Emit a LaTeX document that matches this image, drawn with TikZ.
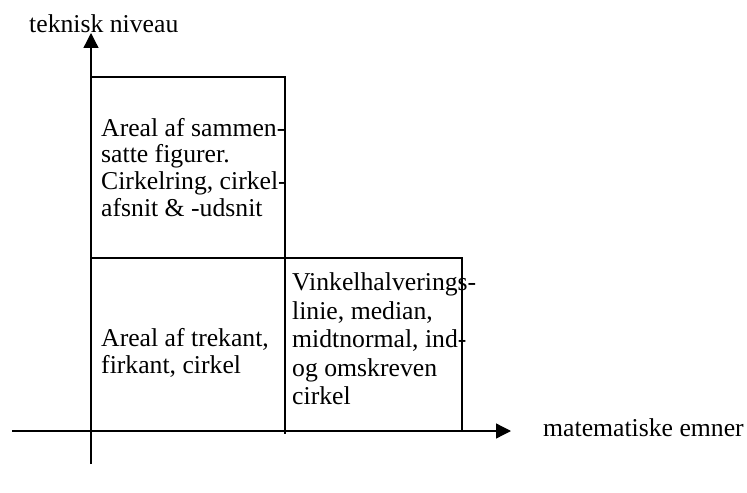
\documentclass[tikz,border=0pt]{standalone}
\usepackage{fontspec}
\setmainfont{Liberation Serif}
\usetikzlibrary{arrows.meta}
\begin{document}
\begin{tikzpicture}[x=1bp,y=-1bp,
  ln/.style={line width=1.2bp},
  axis/.style={line width=1.3bp,-{Triangle[length=15bp,width=15bp]}},
  txt/.style={inner sep=0pt,align=left,font=\fontsize{25.8}{26.7}\selectfont},
  lbl/.style={inner sep=0pt,font=\fontsize{25.8}{26.7}\selectfont}]
\useasboundingbox (0,0) rectangle (747,493);
% boxes
\coordinate (a1) at (91,77);
\coordinate (a2) at (285,258);
\coordinate (b2) at (285,431);
\coordinate (c1) at (285,258);
\coordinate (c2) at (462,431);
\draw[ln] (a1) rectangle (a2);
\draw[ln] (91,258) rectangle (b2);
\draw[ln] (c1) rectangle (c2);
\draw[ln] (a2) -- (285,434);
% axes
\coordinate (xs) at (12,431);
\coordinate (xe) at (511,431);
\coordinate (ys) at (91,464);
\coordinate (ye) at (91,33);
\draw[axis] (xs) -- (xe);
\draw[axis] (ys) -- (ye);
% labels
\node[lbl,anchor=base west] (ty) at (29,33) {teknisk niveau};
\node[lbl,anchor=base west] (tx) at (543,436) {matematiske emner};
\node[txt,anchor=base west] (t1) at (101,216.1) {Areal af sammen-\\satte figurer.\\Cirkelring, cirkel-\\afsnit \& -udsnit};
\node[txt,anchor=base west] (t2) at (101,373.5) {Areal af trekant,\\firkant, cirkel};
\node[txt,anchor=base west,font=\fontsize{25.8}{28.7}\selectfont] (t3) at (292,404.8) {Vinkelhalverings-\\linie, median,\\midtnormal, ind-\\og omskreven\\cirkel};
\end{tikzpicture}
\end{document}
